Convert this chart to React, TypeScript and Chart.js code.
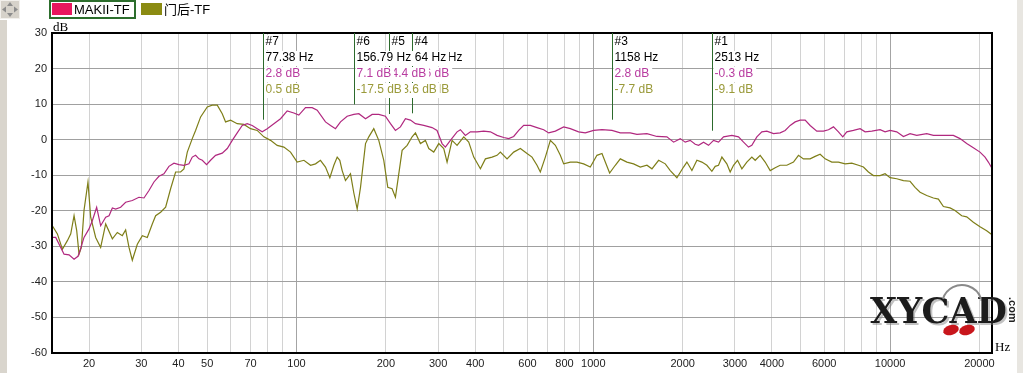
import React, { useEffect, useRef } from "react";
import { Chart, registerables } from "chart.js";

Chart.register(...registerables);

const seriesNames = ["MAKII-TF", "门后-TF"];

const makiiFreq = [15.04,15.44,16.47,17.12,17.8,18.35,18.64,19.23,19.99,20.51,21.21,21.88,22.75,23.35,23.96,24.58,25.55,26.56,27.97,29.45,30.62,31.83,33.08,34.39,35.75,37.16,38.64,40.16,41.75,43.4,44.54,45.7,46.91,48.14,49.77,51.33,53.37,56.2,58.43,60.74,63.12,65.62,68.22,70.91,73.72,76.63,79.66,83.89,88.34,93.02,97.95,101.8,107.2,112.9,117.4,125.2,130.2,135.3,
140.7,148.1,156,162.2,170.8,179.8,189.3,199.3,207.3,215.4,223.9,232.8,242,251.6,268.4,286.2,297.5,309.3,317.4,330,347.5,356.6,370.7,385.4,405.8,427.4,450.1,473.9,499,518.7,539.2,560.6,582.7,613.6,646.1,680.5,707.4,745,794.6,836.7,892.4,939.9,1002.5,1069.6,1155.8,1233,1332,1403,1516,1638,1770,1865,1963,
2040,2121,2205,2263,2352,2445,2542,2642,2747,2930,3085,3208,3334,3421,3557,3697,3843,4048,4262,4431,4606,4788,4977,5174,5378,5664,5965,6201,6446,6699,6928,7147,7525,7925,8238,8676,9254,9620,10000,10530,11090,11676,12296,13290,13995,15516,16340,17206,18120,19081,20091,20888,21434,21994];
const makiiDb = [-27.5,-27.5,-32.2,-32.4,-33.6,-32.8,-31.2,-27.5,-25.1,-22.8,-19,-24.2,-21.8,-21.4,-19.2,-19.5,-19,-17.6,-17.1,-16.2,-16.4,-14.3,-11.9,-10.3,-9.6,-7.5,-6.6,-7,-7.2,-6.8,-4.9,-4.4,-5.4,-5.8,-7,-5.8,-4.4,-3.8,-2.5,-0.2,1.9,4,4.5,4,3.1,2.2,3.1,4.5,5.9,8.1,7.5,6.9,9,9,8.3,5,4,3.1,
5,6.6,7.1,7.3,5.9,7.1,7.1,6.6,4.5,2.6,3.6,5.9,5.5,4.5,4,3.4,2.6,-1.1,-2.1,-0.2,2.2,2.8,1.2,2.2,2.2,2.4,2.2,1.2,0.6,0.3,0.9,2.6,4,4,3.4,2.8,1.9,2.4,3.6,3.1,2.2,1.9,2.6,2.8,2.6,1.9,1.9,1.5,1.7,0.9,0.8,-0.7,0.3,
-0.7,-0.2,-1.3,-1.6,-0.7,-1.6,-0.2,-0.7,0.8,1.2,0.8,-0.7,-2.1,-1.6,0.8,2.2,2.4,1.7,1.9,2.6,4,5,5.5,5.5,4,2.4,2.4,2.8,3.6,2.2,0.8,2.2,2.6,3.1,2.2,2.4,2.8,2.2,2.6,2.2,0.9,1.7,1.2,1.7,1.2,1.2,1.2,0.3,-1.1,-2.3,-3.5,-4.9,-6.3,-7.9];

const doorFreq = [15.04,15.64,16.26,16.9,17.35,17.8,18.17,18.5,18.84,19.23,19.83,20.25,21.05,21.88,22.75,23.96,24.9,25.88,26.56,27.26,27.97,29.08,30.23,31.42,32.66,33.52,34.84,36.22,37.65,39.14,40.68,41.75,42.85,44.54,45.7,47.52,50.03,52,54.07,56.2,57.67,59.96,63.12,66.47,69.99,73.72,77.62,81.75,86.08,90.66,95.46,100.5,105.9,111.5,115.9,120.4,125.2,129.5,133.6,137.1,139.9,
142.5,146.2,152,156,160.1,164.3,170.8,175.2,182.1,189.3,196.8,203,209.9,215.4,221.1,226.9,235.9,245.2,251.6,261.5,271.8,279,290,301.5,313.4,321.6,334.3,347.5,366,380.4,395.5,416.5,432.9,455.9,473.9,486.3,512.1,539.2,567.9,598,621.6,646.1,663,689.3,716.6,745,774.3,794.6,836.7,881,927.7,977,1028.7,1069.6,1097.5,1135,1186,1233,1298,1367,1440,1516,1576,1660,1748,1817,1913,
2014,2067,2149,2234,2322,2414,2509,2575,2642,2712,2818,2892,2968,3062,3167,3291,3421,3512,3650,3794,3945,4101,4262,4488,4726,4913,5107,5378,5591,5812,6042,6362,6699,7055,7429,7824,8132,8453,8788,9254,9620,10000,10530,11090,11676,12140,12619,13290,13995,14547,15124,15922,16553,17429,18120,19081,20091,21160,21994];
const doorDb = [-24.2,-26.5,-30.8,-28.4,-26.5,-21.4,-25.6,-32.2,-30.3,-19.9,-11.9,-21.8,-27.5,-30.3,-23.7,-27.9,-26.1,-27,-25.4,-30.3,-33.9,-29.4,-27,-27.5,-23.7,-21.4,-20.4,-19,-13.8,-9.1,-9.1,-8.2,-3.5,0.3,2.6,6.4,9.2,9.7,9.7,7.3,5,5.5,4.5,4.3,3.1,2.6,0.8,-0.2,-1.6,-2.1,-3.5,-6.3,-5.8,-7.2,-6.8,-5.8,-7.7,-10.7,-7.2,-4.9,-5.8,
-8.7,-11.5,-9.6,-15,-19.5,-13.4,-1.1,0.8,3.1,-0.2,-5.8,-13.4,-13.8,-16.2,-9.6,-3,-1.6,0.8,1.9,-1.1,-0.2,-2.5,-3.5,-1.1,-2.5,-6.3,-0.2,-1.6,0.8,-0.7,-4.9,-8.2,-5.4,-4.9,-4.4,-3.5,-5.4,-3.5,-2.5,-3.9,-4.9,-7.2,-9.1,-4.9,-0.2,-1.6,-4.4,-6.8,-6.3,-6.3,-6.8,-7.7,-4.4,-3.9,-6.3,-9.4,-7.2,-5.4,-6.3,-6.8,-7.7,-7.2,-8.2,-5.8,-6.8,-8.7,-10.7,
-7.7,-6.3,-8.7,-5.8,-6.3,-7.2,-8.9,-7.5,-7.2,-4.9,-6.8,-9.1,-7.2,-5.8,-8.2,-6.3,-4.9,-5.8,-4.4,-6.3,-8.7,-7.9,-7.2,-7.2,-6.3,-4.4,-5.4,-5.4,-4.7,-4.1,-5.4,-6.3,-6.3,-6.8,-6.6,-7.2,-7.7,-9.1,-10.1,-10.1,-9.6,-10.7,-11,-11.5,-11.7,-13.4,-14.8,-15.7,-16.4,-16.7,-18.8,-19.2,-19.9,-21.4,-21.7,-23.2,-24.5,-25.6,-26.7];

const yTicks = [-60, -50, -40, -30, -20, -10, 0, 10, 20, 30];
const xGrid = [20,30,40,50,60,70,80,90,100,200,300,400,500,600,700,800,900,1000,2000,3000,4000,5000,6000,7000,8000,9000,10000,20000];
const xLabels = [20,30,40,50,70,100,200,300,400,600,800,1000,2000,3000,4000,6000,10000,20000];
const decades = [100, 1000, 10000];

const markerNames = ["#1", "#3", "#4", "#5", "#6", "#7"];
const markerFreq = [2513, 1158, 244.9, 205.64, 156.79, 77.38];
const markerFreqText = ["2513 Hz", "1158 Hz", "244.9 Hz", "205.64 Hz", "156.79 Hz", "77.38 Hz"];
const markerMakii = [-0.3, 2.8, 4.6, 4.4, 7.1, 2.8];
const markerDoor = [-9.1, -7.7, 0.8, -13.6, -17.5, 0.5];

const LINE_PINK = "#b0287f";
const LINE_OLIVE = "#7e7e18";
const TEXT_PINK = "#b83ca0";
const TEXT_OLIVE = "#9a9a3a";
const SANS = "'Liberation Sans', Arial, sans-serif";

const overlay = {
  id: "overlay",
  beforeDraw(chart: any) {
    const { ctx, width, height } = chart;
    ctx.save();
    ctx.fillStyle = "#ffffff";
    ctx.fillRect(0, 0, width, height);
    ctx.fillStyle = "#d9d5cd";
    ctx.fillRect(0, 20, 7, height - 20);
    ctx.fillStyle = "#e8e6e1";
    ctx.fillRect(1017, 0, width - 1017, height);
    ctx.restore();
  },
  afterDatasetsDraw(chart: any) {
    const { ctx, chartArea } = chart;
    const xs = chart.scales.x;
    const ys = chart.scales.y;
    ctx.save();

    // frame
    ctx.strokeStyle = "#000";
    ctx.lineWidth = 2;
    ctx.strokeRect(chartArea.left, chartArea.top, chartArea.right - chartArea.left, chartArea.bottom - chartArea.top);

    // markers
    ctx.font = "12px " + SANS;
    ctx.textBaseline = "middle";
    ctx.textAlign = "left";
    markerNames.forEach((name, i) => {
      const x = Math.round(xs.getPixelForValue(markerFreq[i])) + 0.5;
      const yEnd = ys.getPixelForValue(Math.max(markerMakii[i], markerDoor[i])) - 10;
      ctx.strokeStyle = "#2c6a2c";
      ctx.lineWidth = 1;
      ctx.beginPath();
      ctx.moveTo(x, chartArea.top);
      ctx.lineTo(x, yEnd);
      ctx.stroke();
      const lines = [
        [name, "#000"],
        [markerFreqText[i], "#000"],
        [markerMakii[i].toFixed(1) + " dB", TEXT_PINK],
        [markerDoor[i].toFixed(1) + " dB", TEXT_OLIVE],
      ];
      lines.forEach(([t, c], k) => {
        const cy = 42 + k * 16;
        const w = ctx.measureText(t).width;
        ctx.fillStyle = "#fff";
        ctx.fillRect(x + 1, cy - 7, w + 4, 15);
        ctx.fillStyle = c;
        ctx.fillText(t, x + 2, cy);
      });
    });

    // axis units
    ctx.fillStyle = "#000";
    ctx.font = "13px 'Liberation Serif', 'Times New Roman', serif";
    ctx.textBaseline = "alphabetic";
    ctx.fillText("dB", 53, 31);
    ctx.fillText("Hz", 995, 351);

    // legend
    ctx.strokeStyle = "#2d6e2d";
    ctx.lineWidth = 2;
    ctx.strokeRect(50, 1, 85, 17);
    ctx.fillStyle = "#e8175d";
    ctx.fillRect(52, 3, 20, 12);
    ctx.fillStyle = "#8b8b12";
    ctx.fillRect(141, 3, 21, 12);
    ctx.fillStyle = "#000";
    ctx.font = "13px " + SANS + ", 'Noto Sans CJK SC'";
    ctx.textBaseline = "middle";
    ctx.fillText(seriesNames[0], 74, 10);
    ctx.fillText(seriesNames[1], 164, 10);

    // top-left navigation icon
    ctx.fillStyle = "#d6d2ca";
    ctx.fillRect(0, 0, 20, 19);
    ctx.strokeStyle = "#f2f0ec";
    ctx.lineWidth = 1;
    ctx.strokeRect(0.5, 0.5, 19, 18);
    ctx.fillStyle = "#8c8c8c";
    const tri = (pts: number[][]) => {
      ctx.beginPath();
      ctx.moveTo(pts[0][0], pts[0][1]);
      ctx.lineTo(pts[1][0], pts[1][1]);
      ctx.lineTo(pts[2][0], pts[2][1]);
      ctx.closePath();
      ctx.fill();
    };
    tri([[10, 2], [7, 6], [13, 6]]);
    tri([[10, 17], [7, 13], [13, 13]]);
    tri([[2, 9.5], [6, 6.5], [6, 12.5]]);
    tri([[18, 9.5], [14, 6.5], [14, 12.5]]);

    // watermark
    ctx.font = "bold 36px 'DejaVu Serif', serif";
    ctx.textBaseline = "alphabetic";
    const wm = "XYCAD";
    const ww = ctx.measureText(wm).width;
    ctx.save();
    ctx.translate(870, 323);
    ctx.scale(137 / ww, 1);
    ctx.fillStyle = "rgba(120,120,120,0.45)";
    ctx.fillText(wm, 2, 2);
    ctx.fillStyle = "#1c1c1c";
    ctx.fillText(wm, 0, 0);
    ctx.restore();
    ctx.strokeStyle = "#8a8a8a";
    ctx.lineWidth = 2;
    ctx.beginPath();
    ctx.arc(962, 305, 20, Math.PI * 1.1, Math.PI * 1.9);
    ctx.stroke();
    ctx.fillStyle = "#c8161c";
    ctx.beginPath();
    ctx.ellipse(951, 330, 8, 5, -0.3, 0, Math.PI * 2);
    ctx.fill();
    ctx.beginPath();
    ctx.ellipse(967, 330, 8, 5, -0.3, 0, Math.PI * 2);
    ctx.fill();
    ctx.save();
    ctx.translate(1009, 297);
    ctx.rotate(Math.PI / 2);
    ctx.font = "bold 11px " + SANS;
    ctx.fillStyle = "#222";
    ctx.fillText(".com", 0, 0);
    ctx.restore();

    ctx.restore();
  },
};

export default function App() {
  const ref = useRef<HTMLCanvasElement | null>(null);

  useEffect(() => {
    const canvas = ref.current;
    if (!canvas) return;
    const chart = new Chart(canvas, {
      type: "line",
      data: {
        datasets: [
          {
            label: seriesNames[0],
            data: makiiFreq.map((f, i) => ({ x: f, y: makiiDb[i] })),
            borderColor: LINE_PINK,
            borderWidth: 1.2,
            pointRadius: 0,
            tension: 0,
            fill: false,
          },
          {
            label: seriesNames[1],
            data: doorFreq.map((f, i) => ({ x: f, y: doorDb[i] })),
            borderColor: LINE_OLIVE,
            borderWidth: 1.2,
            pointRadius: 0,
            tension: 0,
            fill: false,
          },
        ],
      },
      options: {
        animation: false,
        responsive: false,
        maintainAspectRatio: false,
        events: [],
        layout: { padding: { top: 33, right: 31, left: 0, bottom: 0 } },
        plugins: { legend: { display: false }, tooltip: { enabled: false }, title: { display: false } },
        scales: {
          x: {
            type: "logarithmic",
            min: 15,
            max: 22050,
            afterBuildTicks: (s: any) => {
              s.ticks = xGrid.map((v) => ({ value: v }));
            },
            afterFit: (s: any) => {
              s.height = 20;
            },
            ticks: {
              autoSkip: false,
              maxRotation: 0,
              minRotation: 0,
              padding: 4,
              color: "#222",
              font: { family: SANS, size: 11 },
              callback: (v: any) => (xLabels.includes(Number(v)) ? String(v) : ""),
            },
            grid: {
              drawTicks: false,
              lineWidth: 1,
              color: (c: any) => (c.tick && decades.includes(c.tick.value) ? "#a4a4a4" : "#d2d2d2"),
            },
            border: { display: false },
          },
          y: {
            type: "linear",
            min: -60,
            max: 30,
            afterBuildTicks: (s: any) => {
              s.ticks = yTicks.map((v) => ({ value: v }));
            },
            afterFit: (s: any) => {
              s.width = 52;
            },
            ticks: {
              padding: 5,
              color: "#222",
              font: { family: SANS, size: 11 },
            },
            grid: { drawTicks: false, lineWidth: 1, color: "#a0a0a0" },
            border: { display: false },
          },
        },
      } as any,
      plugins: [overlay],
    });
    return () => chart.destroy();
  }, []);

  return (
    <div style={{ position: "absolute", left: 0, top: 0, width: 1023, height: 373 }}>
      <canvas ref={ref} width={1023} height={373} style={{ display: "block" }} />
    </div>
  );
}
